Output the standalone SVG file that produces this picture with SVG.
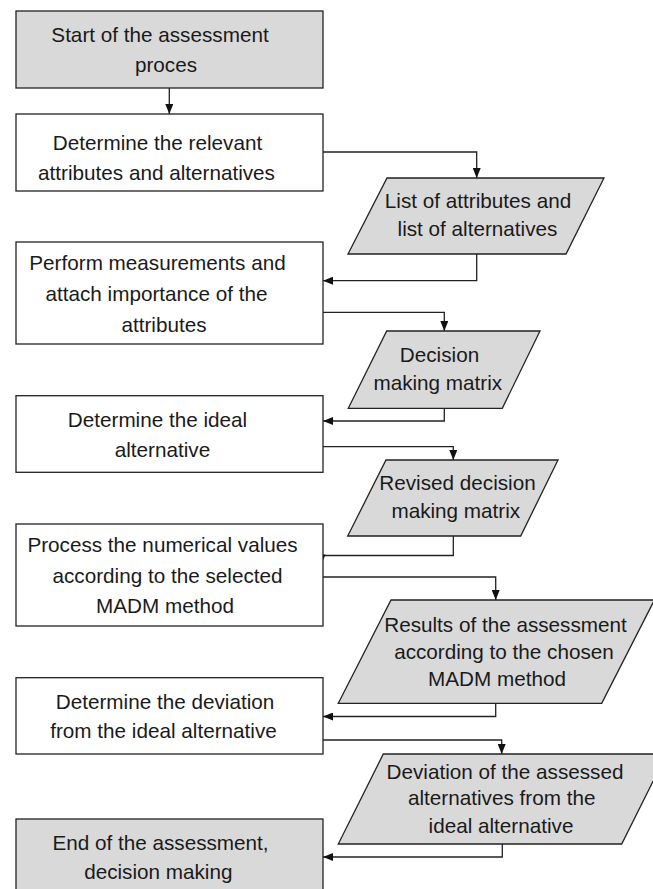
<svg xmlns="http://www.w3.org/2000/svg" width="653" height="889" viewBox="0 0 653 889">
<style>
.box{stroke:#222;stroke-width:1.3;fill:#fff}
.grey{fill:#d9d9d9}
.t{font-family:"Liberation Sans",Arial,sans-serif;font-size:20.7px;fill:#1a1a1a;text-anchor:middle}
.c{fill:none;stroke:#222;stroke-width:1.3}
.ah{fill:#111}
</style>
<defs>
<marker id="arr" viewBox="0 0 10 8" refX="10" refY="4" markerWidth="10" markerHeight="8" markerUnits="userSpaceOnUse" orient="auto">
<path d="M0,0 L10,4 L0,8 Z" class="ah"/>
</marker>
</defs>
<rect width="653" height="889" fill="#fff"/>
<g id="connectors">
<path class="c" d="M169.3,88 V114" marker-end="url(#arr)"/>
<path class="c" d="M323,152 H476.7 V178" marker-end="url(#arr)"/>
<path class="c" d="M476.7,254 V280.7 H323" marker-end="url(#arr)"/>
<path class="c" d="M323,312.3 H444.3 V331" marker-end="url(#arr)"/>
<path class="c" d="M444.3,408.3 V421 H323" marker-end="url(#arr)"/>
<path class="c" d="M323,446.7 H453.3 V460" marker-end="url(#arr)"/>
<path class="c" d="M453.3,536 V555.5 H323"/>
<path class="ah" d="M318.5,554.5 L325.5,554.5 L322,563 Z"/>
<path class="c" d="M323,577 H495.7 V600" marker-end="url(#arr)"/>
<path class="c" d="M495.7,703.3 V716.5 H323" marker-end="url(#arr)"/>
<path class="c" d="M323,740 H501.7 V754" marker-end="url(#arr)"/>
<path class="c" d="M502.3,844 V857 H323" marker-end="url(#arr)"/>
</g>
<g id="start">
<rect class="box grey" x="16" y="11" width="307" height="77"/>
<text class="t" x="160" y="42">Start of the assessment</text>
<text class="t" x="166" y="72">proces</text>
</g>
<g id="determine-attributes">
<rect class="box" x="16" y="114" width="307" height="77"/>
<text class="t" x="157.5" y="150">Determine the relevant</text>
<text class="t" x="156.5" y="180">attributes and alternatives</text>
</g>
<g id="list-attributes">
<polygon class="box grey" points="387,178 604,178 566,254 348,254"/>
<text class="t" x="478" y="208">List of attributes and</text>
<text class="t" x="477.5" y="236">list of alternatives</text>
</g>
<g id="perform-measurements">
<rect class="box" x="16" y="242" width="307" height="102"/>
<text class="t" x="157.5" y="270">Perform measurements and</text>
<text class="t" x="156.5" y="301">attach importance of the</text>
<text class="t" x="164" y="332">attributes</text>
</g>
<g id="decision-matrix">
<polygon class="box grey" points="386.7,331 540,331 502.3,408.3 348.3,408.3"/>
<text class="t" x="439.5" y="362.3">Decision</text>
<text class="t" x="437.8" y="390">making matrix</text>
</g>
<g id="ideal-alternative">
<rect class="box" x="16" y="395.7" width="307" height="76.6"/>
<text class="t" x="157.5" y="426.7">Determine the ideal</text>
<text class="t" x="162.5" y="457.3">alternative</text>
</g>
<g id="revised-matrix">
<polygon class="box grey" points="386,460 558,460 520.7,536 347.7,536"/>
<text class="t" x="457.5" y="490">Revised decision</text>
<text class="t" x="455.8" y="518.3">making matrix</text>
</g>
<g id="process-values">
<rect class="box" x="16" y="524" width="307" height="102"/>
<text class="t" x="162.5" y="551.7">Process the numerical values</text>
<text class="t" x="167.5" y="582.7">according to the selected</text>
<text class="t" x="165" y="613.3">MADM method</text>
</g>
<g id="results">
<polygon class="box grey" points="391,600 654.4,600 601.7,703.3 338.3,703.3"/>
<text class="t" x="505.5" y="632">Results of the assessment</text>
<text class="t" x="504" y="659">according to the chosen</text>
<text class="t" x="497" y="686">MADM method</text>
</g>
<g id="deviation">
<rect class="box" x="16" y="677.7" width="307" height="76.3"/>
<text class="t" x="165" y="709.3">Determine the deviation</text>
<text class="t" x="163.5" y="738.3">from the ideal alternative</text>
</g>
<g id="deviation-result">
<polygon class="box grey" points="383.3,754 666.7,754 621.7,844 338.3,844"/>
<text class="t" x="505" y="779.3">Deviation of the assessed</text>
<text class="t" x="501.7" y="805">alternatives from the</text>
<text class="t" x="501" y="833.3">ideal alternative</text>
</g>
<g id="end">
<rect class="box grey" x="16" y="819" width="307" height="72"/>
<text class="t" x="160.5" y="850">End of the assessment,</text>
<text class="t" x="158.3" y="879.3">decision making</text>
</g>
</svg>
